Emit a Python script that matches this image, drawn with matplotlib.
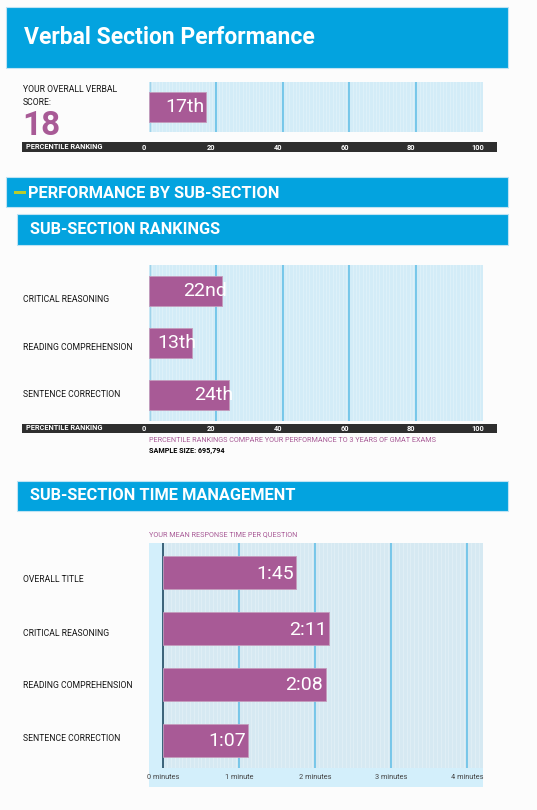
import numpy as np
import matplotlib
matplotlib.use("Agg")
import matplotlib.pyplot as plt
from matplotlib.patches import Rectangle
from matplotlib.transforms import ScaledTranslation

plt.rcParams['font.family'] = ['Roboto', 'DejaVu Sans']

# ---- data ----
overall_score = 18
overall_pct = [17]
overall_pct_labels = ['17th']

rank_cats = ['CRITICAL REASONING', 'READING COMPREHENSION', 'SENTENCE CORRECTION']
rank_vals = [22, 13, 24]
rank_labels = ['22nd', '13th', '24th']
pct_ticks = [0, 20, 40, 60, 80, 100]

time_cats = ['OVERALL TITLE', 'CRITICAL REASONING', 'READING COMPREHENSION', 'SENTENCE CORRECTION']
time_labels = ['1:45', '2:11', '2:08', '1:07']
time_ticks = [0, 1, 2, 3, 4]
time_tick_labels = ['0 minutes', '1 minute', '2 minutes', '3 minutes', '4 minutes']
time_vals = [int(t.split(':')[0]) + int(t.split(':')[1]) / 60 for t in time_labels]

# ---- style ----
W, H = 537, 810
BLUE = '#03a3df'
PURPLE = '#a85a96'
PLOTBG = '#d3ecf7'
GRID = '#5cbce6'
STRIP = '#2e2e2e'
LABEL_FONT = ['Roboto', 'DejaVu Sans']
LABEL_SIZE = 6.2
LABEL_COLOR = '#151515'
LABEL_PAD = 126 * 72 / 100   # label left edge at x=23px

fig = plt.figure(figsize=(W / 100, H / 100), dpi=100)
fig.patch.set_facecolor('#fcfcfc')


def fx(x):
    return x / W


def fy(y):
    return 1 - y / H


def box(x0, y0, x1, y1, color, ec='none', z=-1):
    fig.patches.append(Rectangle((fx(x0), fy(y1)), (x1 - x0) / W, (y1 - y0) / H,
                                 transform=fig.transFigure, facecolor=color,
                                 edgecolor=ec, lw=0.8, zorder=z))


def add_ax(x0, y0, x1, y1):
    return fig.add_axes([fx(x0), fy(y1), (x1 - x0) / W, (y1 - y0) / H])


def small(x, y, s, color=LABEL_COLOR, size=LABEL_SIZE, weight='normal', **kw):
    fig.text(fx(x), fy(y), s, color=color, fontsize=size, fontweight=weight,
             family=LABEL_FONT, va='center', ha='left', **kw)


def style_pct_axis(ax, ylo, yhi, pad):
    ax.set_facecolor(PLOTBG)
    ax.set_xlim(0, 100)
    ax.set_ylim(ylo, yhi)
    for sp in ax.spines.values():
        sp.set_visible(False)
    for v in np.arange(1, 100, 1):
        ax.axvline(v, color='white', lw=0.6, alpha=0.28, zorder=0)
    for v in pct_ticks[1:-1]:
        ax.axvline(v, color=GRID, lw=1.1, zorder=1)
    ax.axvline(0.3, color='#9fd3ea', lw=1, zorder=1)
    ax.set_yticks([])
    ax.set_xticks(pct_ticks)
    ax.tick_params(axis='x', length=0, pad=pad, labelsize=5.3, labelcolor='white')
    off = ScaledTranslation(-5 / 100, 0, fig.dpi_scale_trans)
    for lab in ax.get_xticklabels():
        lab.set_fontweight('bold')
        lab.set_transform(lab.get_transform() + off)


def side_labels(ax, ypos, cats, offsets):
    ax.set_yticks(np.asarray(ypos) + np.asarray(offsets))
    ax.set_yticklabels(cats, family=LABEL_FONT, fontsize=LABEL_SIZE, color=LABEL_COLOR)
    ax.tick_params(axis='y', length=0, pad=LABEL_PAD)
    for lab in ax.get_yticklabels():
        lab.set_horizontalalignment('left')


# ---- banners ----
box(6, 7, 508, 68, BLUE, ec='#bfe3f3')
fig.text(fx(24), fy(38), 'Verbal Section Performance', color='white',
         fontsize=16.5, fontweight='bold', va='center', ha='left')

box(6, 177, 508, 207, BLUE, ec='#bfe3f3')
box(14, 190.5, 26, 193.5, '#b9cc2c', z=2)
fig.text(fx(28), fy(193), 'PERFORMANCE BY SUB-SECTION', color='white',
         fontsize=11.8, fontweight='bold', va='center', ha='left')

box(17, 214, 508, 245, BLUE, ec='#bfe3f3')
fig.text(fx(30), fy(230), 'SUB-SECTION RANKINGS', color='white',
         fontsize=11.8, fontweight='bold', va='center', ha='left')

box(17, 481, 508, 511, BLUE, ec='#bfe3f3')
fig.text(fx(30), fy(496), 'SUB-SECTION TIME MANAGEMENT', color='white',
         fontsize=11.8, fontweight='bold', va='center', ha='left')

# ---- overall score ----
small(23, 89, 'YOUR OVERALL VERBAL')
small(23, 102.5, 'SCORE:')
fig.text(fx(22), fy(126), str(overall_score), color=PURPLE, fontsize=24,
         fontweight='bold', va='center', ha='left')

box(22, 142.3, 497, 151.7, STRIP)
small(26, 147, 'PERCENTILE RANKING', color='white', size=5.3, weight='bold')

ax1 = add_ax(149, 82, 483, 132)
style_pct_axis(ax1, -0.5, 0.5, pad=8.3)
ax1.barh([0], overall_pct, height=0.59, color=PURPLE, edgecolor='#c49cbc',
         lw=0.6, zorder=2)
for v, t in zip(overall_pct, overall_pct_labels):
    ax1.text(v - 0.3, 0.0, t, color='white', fontsize=14, ha='right',
             va='center', zorder=3)

# ---- sub-section rankings ----
ax2 = add_ax(149, 265, 483, 421)
style_pct_axis(ax2, -0.5, 2.5, pad=2.8)
ypos = np.arange(len(rank_cats))[::-1]
ax2.barh(ypos, rank_vals, height=0.595, color=PURPLE, edgecolor='#c49cbc',
         lw=0.6, zorder=2)
for y, v, t in zip(ypos, rank_vals, rank_labels):
    ax2.text(v + 1.3, y, t, color='white', fontsize=14, ha='right',
             va='center', zorder=3)
side_labels(ax2, ypos, rank_cats, [-0.146, -0.058, 0.038])

box(22, 424, 497, 433, STRIP)
small(26, 428.5, 'PERCENTILE RANKING', color='white', size=5.3, weight='bold')
small(149, 440.5, 'PERCENTILE RANKINGS COMPARE YOUR PERFORMANCE TO 3 YEARS OF GMAT EXAMS',
      color=PURPLE, size=5.2)
small(149, 451, 'SAMPLE SIZE: 695,794', color='black', size=5.2, weight='bold')

# ---- time management ----
small(149, 534.5, 'YOUR MEAN RESPONSE TIME PER QUESTION', color=PURPLE, size=5.2)
box(149, 543, 483, 787, '#d3effb')
ax3 = add_ax(149, 543, 483, 768)
ax3.set_facecolor('#d3effb')
ax3.set_xlim(-0.19, 4.205)
ax3.set_ylim(-0.5, 3.53)
for sp in ax3.spines.values():
    sp.set_visible(False)
ax3.axvspan(0, 4.205, color='#d6e9f2', zorder=0, lw=0)
for v in np.arange(0.05, 4.2, 0.05):
    ax3.axvline(v, color='white', lw=0.6, alpha=0.28, zorder=0)
for v in time_ticks[1:]:
    ax3.axvline(v, color=GRID, lw=1.1, zorder=1)
ax3.axvline(0, color='#1f4a63', lw=1.2, zorder=1)
typos = np.arange(len(time_cats))[::-1]
ax3.barh(typos, time_vals, height=0.59, color=PURPLE, edgecolor='#c49cbc',
         lw=0.6, zorder=2)
for y, v, t in zip(typos, time_vals, time_labels):
    ax3.text(v - 0.03, y - 0.02, t, color='white', fontsize=14, ha='right',
             va='center', zorder=3)
side_labels(ax3, typos, time_cats, [-0.108, -0.066, -0.013, 0.048])
ax3.set_xticks(time_ticks)
ax3.set_xticklabels(time_tick_labels, family=LABEL_FONT, fontsize=5.3, color='#444444')
ax3.tick_params(axis='x', length=0, pad=4.3)

fig.savefig('out.png', dpi=100, facecolor=fig.get_facecolor())
